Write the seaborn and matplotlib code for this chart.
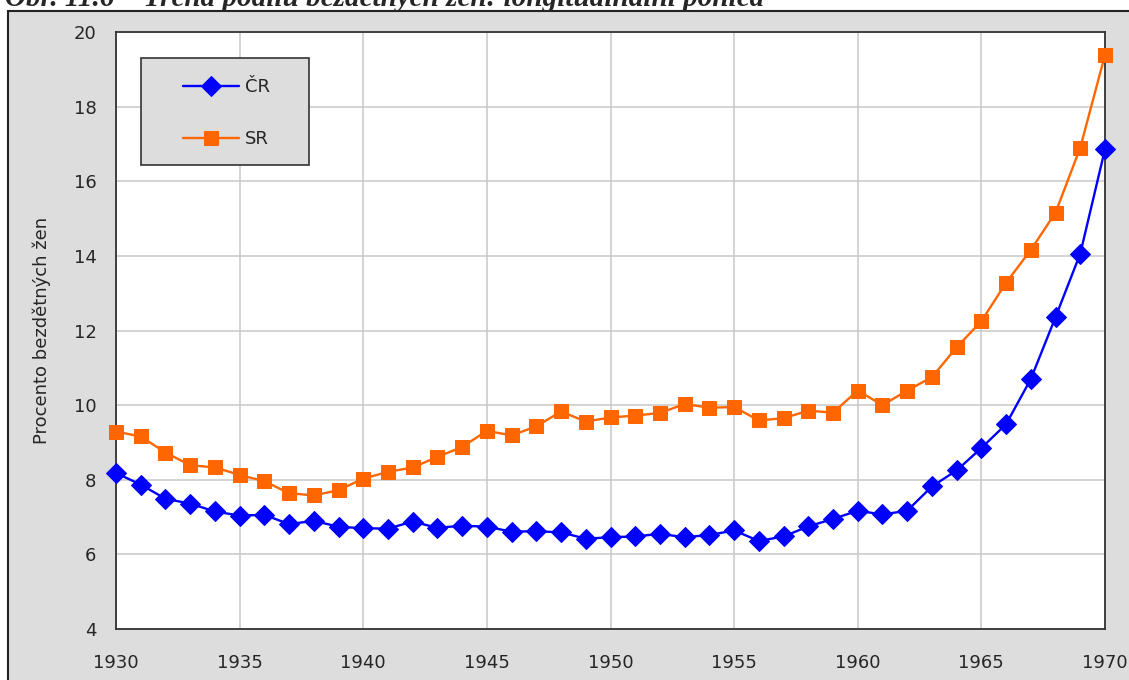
# Trend podilu bezdetnych zen - longitudinalni pohled

import numpy as np
import pandas as pd
import matplotlib
matplotlib.use("Agg")
import matplotlib.pyplot as plt
import seaborn as sns
from matplotlib.patches import Rectangle

# DATA

years = list(range(1930, 1971))

cr = [8.18, 7.87, 7.49, 7.36, 7.15, 7.04, 7.06, 6.81, 6.90, 6.74,
      6.70, 6.69, 6.88, 6.71, 6.77, 6.74, 6.61, 6.62, 6.59, 6.42,
      6.46, 6.48, 6.55, 6.46, 6.52, 6.64, 6.36, 6.48, 6.75, 6.95,
      7.17, 7.07, 7.17, 7.82, 8.25, 8.85, 9.49, 10.70, 12.36, 14.06,
      16.86]

sr = [9.29, 9.16, 8.73, 8.39, 8.33, 8.13, 7.96, 7.64, 7.58, 7.72,
      8.03, 8.21, 8.33, 8.61, 8.88, 9.31, 9.19, 9.43, 9.83, 9.56,
      9.67, 9.72, 9.79, 10.03, 9.93, 9.95, 9.59, 9.65, 9.85, 9.80,
      10.39, 10.00, 10.39, 10.75, 11.55, 12.25, 13.28, 14.16, 15.16, 16.90,
      19.39]

x_ticks = list(range(1930, 1971, 5))
y_ticks = list(range(4, 21, 2))

df = pd.DataFrame({"rok": years, "ČR": cr, "SR": sr})

# PLOT

sns.set_style("white")
plt.rcParams['font.family'] = ['DejaVu Sans']

W, H = 1129, 680
fig = plt.figure(figsize=(W / 100, H / 100), dpi=100)
fig.patch.set_facecolor("white")

# gray chart frame (behind the axes)
frame = Rectangle((8 / W, -0.05), 1.2, 1 - 11 / H + 0.05,
                  transform=fig.transFigure, facecolor="#DDDDDD",
                  edgecolor="#222222", linewidth=1.5, zorder=-5)
fig.add_artist(frame)

# caption, cut at the top edge like in the source page
fig.text(5 / W, 1 - 6 / H, "Obr. 11.6 – Trend podílu bezdětných žen: longitudinální pohled",
         family="Liberation Serif", style="italic", weight="bold", fontsize=21,
         va="baseline", ha="left")

ax = fig.add_axes([116 / W, 1 - 629 / H, (1105 - 116) / W, (629 - 32) / H])
ax.set_facecolor("white")
ax.set_zorder(1)

sns.lineplot(data=df, x="rok", y="ČR", ax=ax, color="#0000FF", marker="D",
             markersize=10, markeredgecolor="#0000FF", linewidth=1.7, label="ČR",
             clip_on=False, zorder=4)
sns.lineplot(data=df, x="rok", y="SR", ax=ax, color="#FF6600", marker="s",
             markersize=9.5, markeredgecolor="#FF6600", linewidth=1.7, label="SR",
             clip_on=False, zorder=3)

ax.set_xlim(1930, 1970)
ax.set_ylim(4, 20)
ax.set_xticks(x_ticks)
ax.set_yticks(y_ticks)
ax.grid(True, color="#C8C8C8", linewidth=1.1)
ax.set_axisbelow(True)

for side in ["left", "bottom", "top", "right"]:
    ax.spines[side].set_color("#333333")
    ax.spines[side].set_linewidth(1.3)

ax.tick_params(axis="both", direction="out", length=6, width=1, color="#333333",
               labelsize=13, pad=8)
ax.tick_params(axis="x", pad=12)

ax.set_xlabel("")
ax.set_ylabel("Procento bezdětných žen", fontsize=13, labelpad=16)

# legend box drawn separately so its size matches the source
box = Rectangle((141 / W, 1 - 165 / H), (309 - 141) / W, (165 - 58) / H,
                transform=fig.transFigure, facecolor="#DDDDDD",
                edgecolor="#333333", linewidth=1.2, zorder=6)
ax.add_artist(box)

leg = ax.legend(loc="upper left", bbox_to_anchor=(183 / W, 1 - 78 / H),
                bbox_transform=fig.transFigure, frameon=False,
                fontsize=13, handlelength=3.1, labelspacing=1.9, borderpad=0,
                handletextpad=0.35, borderaxespad=0)
leg.set_zorder(7)

plt.savefig("out.png", dpi=100)
